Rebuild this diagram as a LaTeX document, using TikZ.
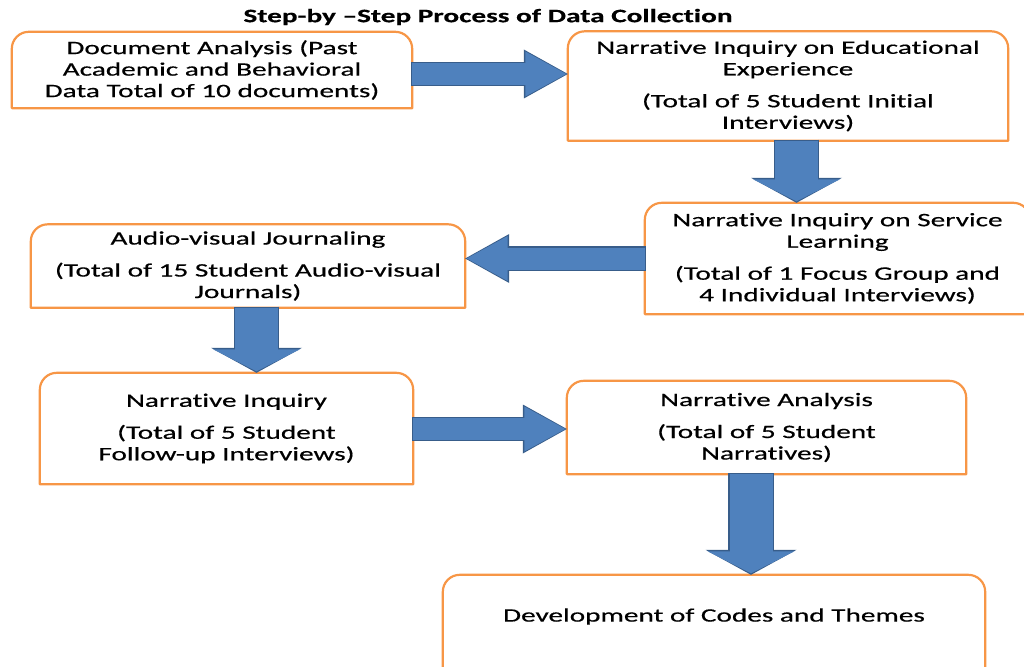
\documentclass[tikz,border=0pt]{standalone}
\usepackage{fontspec}
\setmainfont{Carlito}[FakeStretch=1.54, FakeBold=0.5, Ligatures={TeX,NoCommon}, Contextuals=NoAlternate]
\usetikzlibrary{arrows.meta}
\definecolor{boxorange}{HTML}{F79646}
\definecolor{arrowblue}{HTML}{4F81BD}
\definecolor{arrowdark}{HTML}{385D8A}
\newcommand{\cornerr}{17pt}
\newcommand{\tabframe}[1]{\draw[frame] (#1.south west) -- ([yshift=-\cornerr]#1.north west) arc[start angle=180, end angle=90, radius=\cornerr] -- ([xshift=-\cornerr]#1.north east) arc[start angle=90, end angle=0, radius=\cornerr] -- (#1.south east) -- cycle;}

\begin{document}
\begin{tikzpicture}[x=1pt, y=-1pt,
    stepbox/.style={rectangle, inner sep=0pt, align=center, font=\fontsize{19}{21.5}\selectfont},
    frame/.style={draw=boxorange, line width=2.2pt, line join=round},
    sidearrow/.style={draw=arrowblue, line width=22pt, shorten >=1.5pt, -{Triangle[length=41pt 0 0, width=45pt 0 0, line width=0pt 0 0]},
        preaction={draw=arrowdark, line width=24.4pt, shorten >=0pt, shorten <=-1pt, -{Triangle[length=44pt 0 0, width=49pt 0 0, line width=0pt 0 0]}},
        preaction={draw=arrowblue, line width=22pt, shorten >=25pt, shorten <=0pt, -}},
    downarrow/.style={draw=arrowblue, line width=43pt, shorten >=1.5pt, -{Triangle[length=22pt 0 0, width=87pt 0 0, line width=0pt 0 0]},
        preaction={draw=arrowdark, line width=45.4pt, shorten >=0pt, shorten <=-1pt, -{Triangle[length=25pt 0 0, width=91pt 0 0, line width=0pt 0 0]}},
        preaction={draw=arrowblue, line width=43pt, shorten >=12pt, shorten <=0pt, -}}]
    \useasboundingbox (0,0) rectangle (1024,666);

    % Title
    \node[stepbox, font=\fontsize{19}{21.5}\selectfont\bfseries] (title) at (488,17) {Step-by \textendash Step Process of Data Collection};

    % Steps
    \node[stepbox, minimum width=400pt, minimum height=76pt] (doc) at (212,70) {Document Analysis (Past\\Academic and Behavioral\\Data Total of 10 documents)};
    \node[stepbox, minimum width=440pt, minimum height=109pt] (edu) at (788,86) {Narrative Inquiry on Educational\\Experience\\[10.5pt](Total of 5 Student Initial\\Interviews)};
    \node[stepbox, minimum width=385pt, minimum height=111pt] (service) at (837.5,258.5) {Narrative Inquiry on Service\\Learning\\[10.5pt](Total of 1 Focus Group and\\4 Individual Interviews)};
    \node[stepbox, minimum width=434pt, minimum height=83pt] (journal) at (248,266) {Audio-visual Journaling\\[10.5pt](Total of 15 Student Audio-visual\\Journals)};
    \node[stepbox, minimum width=373pt, minimum height=111pt] (followup) at (226.5,428.5) {Narrative Inquiry\\[10.5pt](Total of 5 Student\\Follow-up Interviews)};
    \node[stepbox, minimum width=399pt, minimum height=93pt] (analysis) at (766.5,427.5) {Narrative Analysis\\[10.5pt](Total of 5 Student\\Narratives)};
    \node[stepbox, minimum width=542pt, minimum height=97pt, text depth=17pt] (codes) at (714,623.5) {Development of Codes and Themes};

    \tabframe{doc}
    \tabframe{edu}
    \tabframe{service}
    \tabframe{journal}
    \tabframe{followup}
    \tabframe{analysis}
    \tabframe{codes}

    % Block arrows
    \draw[sidearrow] ([yshift=-4pt]doc.east) -- ([yshift=-4pt]doc.east -| edu.west);
    \draw[downarrow] ([xshift=8.5pt]edu.south) -- ([xshift=8.5pt]edu.south |- service.north);
    \draw[sidearrow] (service.west) -- (service.west -| journal.east);
    \draw[downarrow] ([xshift=8.5pt]journal.south) -- ([xshift=8.5pt]journal.south |- followup.north);
    \draw[sidearrow] ([yshift=-0.5pt]followup.east) -- ([yshift=-0.5pt]followup.east -| analysis.west);
    \draw[downarrow] ([xshift=-15.5pt]analysis.south) -- ([xshift=-15.5pt]analysis.south |- codes.north);

\end{tikzpicture}
\end{document}
